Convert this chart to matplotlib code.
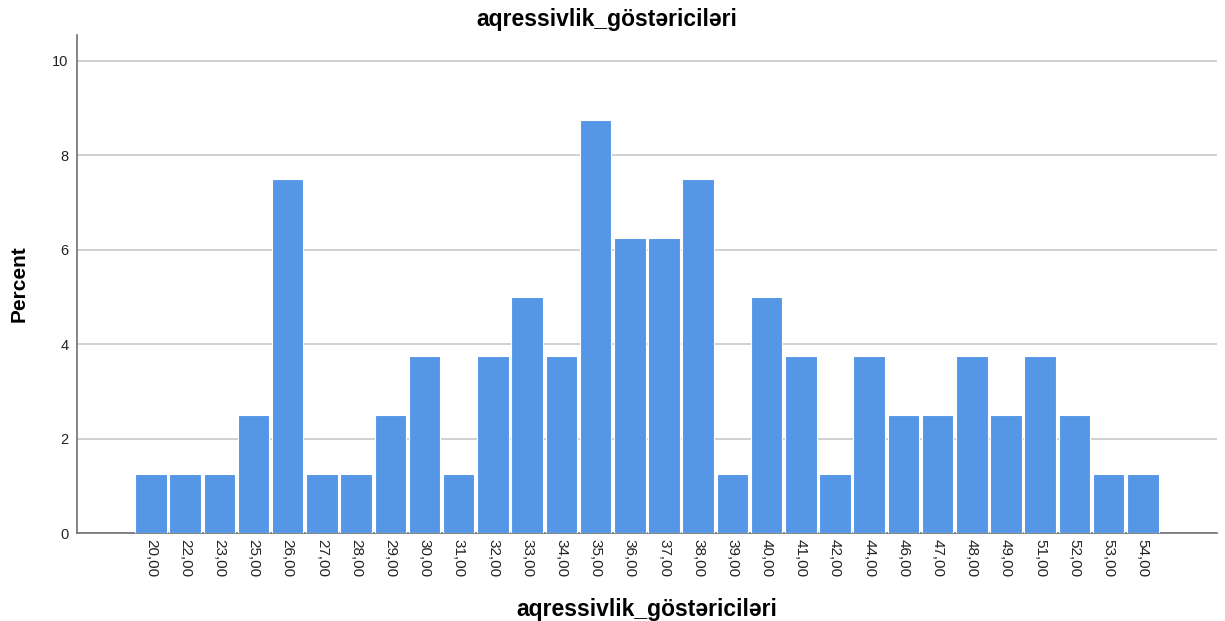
import matplotlib
matplotlib.use('Agg')
from matplotlib import pyplot as plt

plt.rcParams['font.family'] = ['Liberation Sans', 'DejaVu Sans']

categories = ['20,00', '22,00', '23,00', '25,00', '26,00', '27,00', '28,00', '29,00', '30,00', '31,00',
              '32,00', '33,00', '34,00', '35,00', '36,00', '37,00', '38,00', '39,00', '40,00', '41,00',
              '42,00', '44,00', '46,00', '47,00', '48,00', '49,00', '51,00', '52,00', '53,00', '54,00']
percent = [1.25, 1.25, 1.25, 2.5, 7.5, 1.25, 1.25, 2.5, 3.75, 1.25,
           3.75, 5.0, 3.75, 8.75, 6.25, 6.25, 7.5, 1.25, 5.0, 3.75,
           1.25, 3.75, 2.5, 2.5, 3.75, 2.5, 3.75, 2.5, 1.25, 1.25]
yticks = [0, 2, 4, 6, 8, 10]

fig = plt.figure(figsize=(12.25, 6.21), dpi=100)
ax = fig.add_axes([0.0629, 0.1417, 0.9306, 0.8019])

x = list(range(len(categories)))
ax.bar(x, percent, width=0.92, color='#5596e6', edgecolor='white', linewidth=0.8, zorder=3)

ax.set_xlim(-2.16, 31.17)
ax.set_ylim(0, 10.55)
ax.set_xticks(x)
ax.set_xticklabels(categories, rotation=270, fontsize=11, color='#222222')
ax.set_yticks(yticks)
ax.set_yticklabels([str(t) for t in yticks], fontsize=10.5, color='#222222')
ax.tick_params(axis='x', length=0, pad=4)
ax.tick_params(axis='y', length=0, pad=6)

ax.grid(axis='y', color='#c8c8c8', linewidth=1.2, zorder=0)
for side in ['top', 'right']:
    ax.spines[side].set_visible(False)
for side in ['left', 'bottom']:
    ax.spines[side].set_color('#707070')
    ax.spines[side].set_linewidth(1.2)

fig.suptitle('aqressivlik_göstəriciləri', x=0.495, y=0.968, va='center', fontsize=16.5, fontweight='bold')
ax.set_xlabel('aqressivlik_göstəriciləri', fontsize=16.5, fontweight='bold', labelpad=15)
ax.set_ylabel('Percent', fontsize=15, fontweight='bold', labelpad=17)

fig.savefig('out.png', dpi=100)
